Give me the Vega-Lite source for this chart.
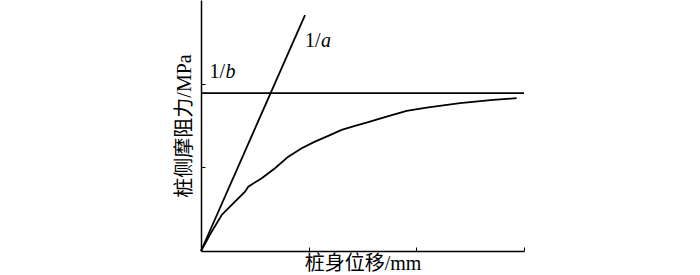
{
  "$schema": "https://vega.github.io/schema/vega-lite/v6.json",
  "width": 323,
  "height": 251,
  "autosize": {"type": "none"},
  "padding": {"left": 201, "top": 0, "right": 176, "bottom": 24},
  "background": "white",
  "config": {
    "view": {"stroke": null},
    "axis": {
      "domainColor": "black",
      "domainWidth": 1.5,
      "tickColor": "black",
      "tickWidth": 1,
      "grid": false,
      "labels": false,
      "titleFont": "Liberation Serif, Noto Sans CJK SC",
      "titleFontSize": 20,
      "titleFontWeight": "normal",
      "titleColor": "black"
    }
  },
  "datasets": {
    "lines": [
      {"s": "curve", "x": 0, "y": 0},
      {"s": "curve", "x": 0.099, "y": 0.231},
      {"s": "curve", "x": 0.192, "y": 0.431},
      {"s": "curve", "x": 0.316, "y": 0.59},
      {"s": "curve", "x": 0.409, "y": 0.709},
      {"s": "curve", "x": 0.439, "y": 0.769},
      {"s": "curve", "x": 0.564, "y": 0.87},
      {"s": "curve", "x": 0.687, "y": 0.989},
      {"s": "curve", "x": 0.811, "y": 1.128},
      {"s": "curve", "x": 0.935, "y": 1.228},
      {"s": "curve", "x": 1.058, "y": 1.307},
      {"s": "curve", "x": 1.182, "y": 1.376},
      {"s": "curve", "x": 1.306, "y": 1.447},
      {"s": "curve", "x": 1.43, "y": 1.495},
      {"s": "curve", "x": 1.553, "y": 1.54},
      {"s": "curve", "x": 1.724, "y": 1.606},
      {"s": "curve", "x": 1.91, "y": 1.675},
      {"s": "curve", "x": 2.096, "y": 1.714},
      {"s": "curve", "x": 2.405, "y": 1.767},
      {"s": "curve", "x": 2.714, "y": 1.806},
      {"s": "curve", "x": 2.931, "y": 1.827},
      {"s": "1/a", "x": 0, "y": 0},
      {"s": "1/a", "x": 0.966, "y": 2.82},
      {"s": "1/b", "x": 0, "y": 1.886},
      {"s": "1/b", "x": 3.0, "y": 1.886}
    ],
    "labels": [
      {"num": "1/", "letter": "a", "x": 0.966, "y": 2.444},
      {"num": "1/", "letter": "b", "x": 0.079, "y": 2.066}
    ]
  },
  "layer": [
    {
      "data": {"name": "lines"},
      "mark": {"type": "line", "color": "black", "strokeWidth": 1.8},
      "encoding": {
        "x": {
          "field": "x", "type": "quantitative",
          "scale": {"domain": [0, 3], "nice": false, "zero": false},
          "axis": {"title": "桩身位移/mm", "values": [1, 2, 3], "tickSize": -4, "titlePadding": 2}
        },
        "y": {
          "field": "y", "type": "quantitative",
          "scale": {"domain": [0, 3], "nice": false, "zero": false},
          "axis": {"title": "桩侧摩阻力/MPa", "values": [1, 2], "tickSize": -4, "titlePadding": 6}
        },
        "detail": {"field": "s"}
      }
    },
    {
      "data": {"name": "labels"},
      "mark": {"type": "text", "align": "left", "baseline": "alphabetic", "font": "Liberation Serif", "fontSize": 20, "color": "black"},
      "encoding": {
        "x": {"field": "x", "type": "quantitative"},
        "y": {"field": "y", "type": "quantitative"},
        "text": {"field": "num"}
      }
    },
    {
      "data": {"name": "labels"},
      "mark": {"type": "text", "align": "left", "baseline": "alphabetic", "font": "Liberation Serif", "fontSize": 20, "fontStyle": "italic", "color": "black", "dx": 16},
      "encoding": {
        "x": {"field": "x", "type": "quantitative"},
        "y": {"field": "y", "type": "quantitative"},
        "text": {"field": "letter"}
      }
    }
  ]
}
